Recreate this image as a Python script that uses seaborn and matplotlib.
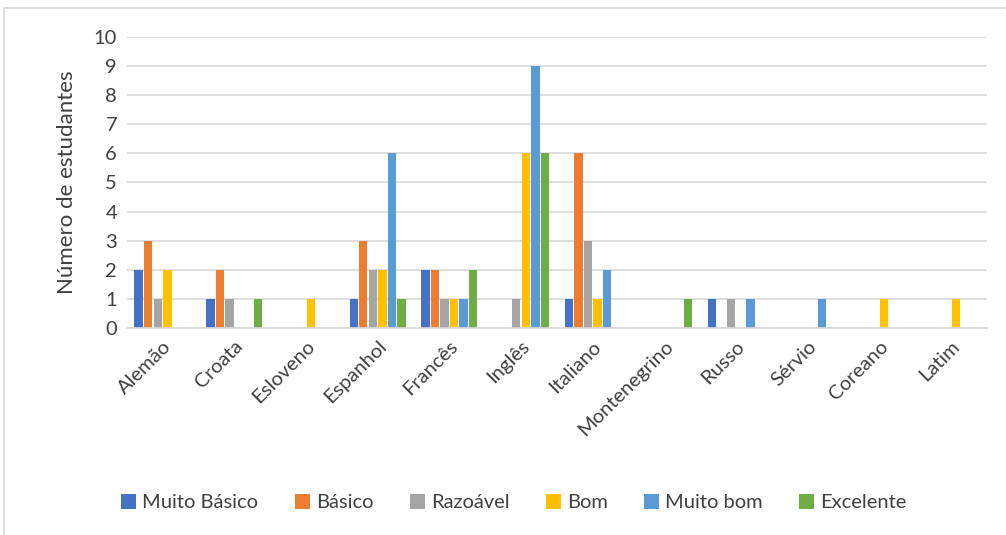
import pandas as pd
import numpy as np
import matplotlib.pyplot as plt
import seaborn as sns
from matplotlib.patches import Rectangle

idiomas = ["Alemão", "Croata", "Esloveno", "Espanhol", "Francês", "Inglês",
           "Italiano", "Montenegrino", "Russo", "Sérvio", "Coreano", "Latim"]
niveis = ["Muito Básico", "Básico", "Razoável", "Bom", "Muito bom", "Excelente"]

muito_basico = [2, 1, 0, 1, 2, 0, 1, 0, 1, 0, 0, 0]
basico       = [3, 2, 0, 3, 2, 0, 6, 0, 0, 0, 0, 0]
razoavel     = [1, 1, 0, 2, 1, 1, 3, 0, 1, 0, 0, 0]
bom          = [2, 0, 1, 2, 1, 6, 1, 0, 0, 0, 1, 1]
muito_bom    = [0, 0, 0, 6, 1, 9, 2, 0, 1, 1, 0, 0]
excelente    = [0, 1, 0, 1, 2, 6, 0, 1, 0, 0, 0, 0]

cores = ["#4472C4", "#ED7D31", "#A5A5A5", "#FFC000", "#5B9BD5", "#70AD47"]

series = [muito_basico, basico, razoavel, bom, muito_bom, excelente]
df = pd.DataFrame({
    "Idioma": np.tile(idiomas, len(niveis)),
    "Nível": np.repeat(niveis, len(idiomas)),
    "Estudantes": np.concatenate(series),
})

sns.set_style("white")
plt.rcParams['font.family'] = ['Lato', 'DejaVu Sans']

fig = plt.figure(figsize=(10.06, 5.35), dpi=100)
ax = fig.add_axes([0.126, 0.387, 0.855, 0.544])

sns.barplot(data=df, x="Idioma", y="Estudantes", hue="Nível", order=idiomas,
            hue_order=niveis, palette=cores, saturation=1, width=0.8, gap=0.12,
            linewidth=0, errorbar=None, ax=ax)

ax.set_ylim(0, 10)
ax.set_yticks(np.arange(0, 11, 1))
ax.set_xlim(-0.5, len(idiomas) - 0.5)
ax.grid(axis='y', color='#D9D9D9', linewidth=1.2)
ax.set_axisbelow(True)
for s in ['top', 'right', 'left']:
    ax.spines[s].set_visible(False)
ax.spines['bottom'].set_color('#D9D9D9')
ax.spines['bottom'].set_linewidth(1.2)
ax.tick_params(axis='both', length=0, labelsize=14.5, colors='#404040', pad=7)
plt.setp(ax.get_xticklabels(), rotation=45, ha='right', rotation_mode='anchor')

ax.set_xlabel("")
ax.set_ylabel("Número de estudantes", fontsize=16, color='#404040', labelpad=12)

ax.legend(ncols=6, loc='center', bbox_to_anchor=(0.45, -0.6),
          frameon=False, fontsize=14.5, handlelength=0.75, handleheight=0.75,
          handletextpad=0.3, columnspacing=1.8, labelcolor='#404040')

fig.patches.append(Rectangle((4 / 1006, -0.01), 1.0, 1 - 8 / 535 + 0.01,
                             transform=fig.transFigure, fill=False,
                             edgecolor='#D9D9D9', linewidth=1.2))

plt.savefig("out.png", dpi=100)
